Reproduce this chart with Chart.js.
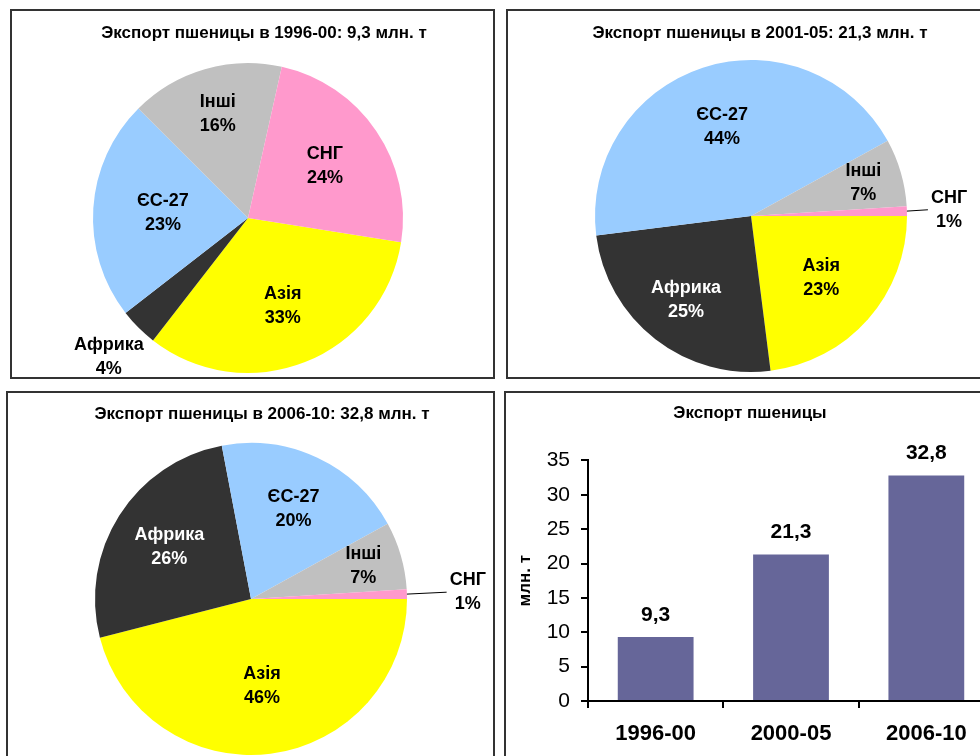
<!DOCTYPE html>
<html>
<head>
<meta charset="utf-8">
<script src="https://cdn.jsdelivr.net/npm/chart.js@4.4.1/dist/chart.umd.min.js"></script>
<style>
  html, body { margin: 0; padding: 0; background: #fff; }
  body { position: relative; width: 980px; height: 756px; overflow: hidden; }
  .panel { position: absolute; border: 2px solid #333; background: #fff; overflow: hidden; }
  .panel canvas { display: block; }
</style>
</head>
<body>
<div class="panel" style="left:10px; top:9px; width:481px; height:366px;"><canvas id="pie1" width="481" height="366"></canvas></div>
<div class="panel" style="left:506px; top:9px; width:480px; height:366px;"><canvas id="pie2" width="480" height="366"></canvas></div>
<div class="panel" style="left:6px; top:391px; width:485px; height:370px;"><canvas id="pie3" width="485" height="370"></canvas></div>
<div class="panel" style="left:504px; top:391px; width:500px; height:370px;"><canvas id="bars" width="500" height="370"></canvas></div>

<script>
// Данные
const regions = ["Азія", "Африка", "ЄС-27", "Інші", "СНГ"]
const share1996 = [33, 4, 23, 16, 24]
const share2001 = [23, 25, 44, 7, 1]
const share2006 = [46, 26, 20, 7, 1]
const pieTitles = [
  "Экспорт пшеницы в 1996-00: 9,3 млн. т",
  "Экспорт пшеницы в 2001-05: 21,3 млн. т",
  "Экспорт пшеницы в 2006-10: 32,8 млн. т",
]
const periods = ["1996-00", "2000-05", "2006-10"]
const exportTotals = [9.3, 21.3, 32.8]

const FONT = '"Liberation Sans", Arial, Helvetica, sans-serif'
Chart.defaults.font.family = FONT
Chart.defaults.color = "#000"

// Цвета секторов
const sliceColors = ["#FFFF00", "#333333", "#99CCFF", "#C0C0C0", "#FF99CC"]

// Заголовок панели
const panelTitle = {
  id: "panelTitle",
  afterDraw(chart, args, opts) {
    const ctx = chart.ctx
    ctx.save()
    ctx.font = "bold 17px " + FONT
    ctx.fillStyle = "#000"
    ctx.textAlign = "center"
    ctx.textBaseline = "middle"
    ctx.fillText(opts.text, opts.x, opts.y)
    ctx.restore()
  },
}

// Подписи секторов: название + процент
const sliceLabels = {
  id: "sliceLabels",
  afterDatasetsDraw(chart, args, opts) {
    const ctx = chart.ctx
    const meta = chart.getDatasetMeta(0)
    const ds = chart.data.datasets[0]
    ctx.save()
    ctx.font = "bold 18px " + FONT
    ctx.textAlign = "center"
    ctx.textBaseline = "middle"
    meta.data.forEach((arc, i) => {
      const p = arc.getProps(["x", "y", "startAngle", "endAngle", "outerRadius"], true)
      const mid = (p.startAngle + p.endAngle) / 2
      const k = opts.radius[i]
      const lx = p.x + Math.cos(mid) * p.outerRadius * k
      const ly = p.y + Math.sin(mid) * p.outerRadius * k
      const lines = [chart.data.labels[i], ds.data[i] + "%"]
      if (opts.leader && opts.leader[i]) {
        const w = Math.max(...lines.map((t) => ctx.measureText(t).width))
        ctx.strokeStyle = "#000"
        ctx.lineWidth = 1
        ctx.beginPath()
        ctx.moveTo(p.x + Math.cos(mid) * p.outerRadius, p.y + Math.sin(mid) * p.outerRadius)
        ctx.lineTo(lx - w / 2 - 3, ly)
        ctx.stroke()
      }
      ctx.fillStyle = k < 1 && ds.backgroundColor[i] === "#333333" ? "#fff" : "#000"
      lines.forEach((t, j) => ctx.fillText(t, lx, ly + (j - 0.5) * opts.lineGap))
    })
    ctx.restore()
  },
}

function makePie(id, values, title, rotation, padding, titlePos, radius, leader) {
  new Chart(document.getElementById(id), {
    type: "pie",
    data: {
      labels: regions,
      datasets: [{ data: values, backgroundColor: sliceColors, borderWidth: 0 }],
    },
    options: {
      responsive: false,
      animation: false,
      rotation: rotation,
      layout: { padding: padding },
      plugins: {
        legend: { display: false },
        tooltip: { enabled: false },
        panelTitle: { text: title, x: titlePos[0], y: titlePos[1] },
        sliceLabels: { radius: radius, leader: leader, lineGap: 24 },
      },
    },
    plugins: [panelTitle, sliceLabels],
  })
}

makePie("pie1", share1996, pieTitles[0], 99,
  { left: 81, right: 90, top: 52, bottom: 4 }, [252, 22],
  [0.61, 1.27, 0.55, 0.7, 0.6], null)

makePie("pie2", share2001, pieTitles[1], 90,
  { left: 87, right: 81, top: 49, bottom: 5 }, [252, 22],
  [0.6, 0.68, 0.6, 0.75, 1.27], [false, false, false, false, true])

makePie("pie3", share2006, pieTitles[2], 90,
  { left: 87, right: 86, top: 50, bottom: 8 }, [254, 21],
  [0.56, 0.62, 0.64, 0.75, 1.39], [false, false, false, false, true])

// Подписи значений над столбцами
const barValues = {
  id: "barValues",
  afterDatasetsDraw(chart) {
    const ctx = chart.ctx
    const meta = chart.getDatasetMeta(0)
    ctx.save()
    ctx.font = "bold 21px " + FONT
    ctx.fillStyle = "#000"
    ctx.textAlign = "center"
    ctx.textBaseline = "middle"
    meta.data.forEach((bar, i) => {
      const v = chart.data.datasets[0].data[i]
      ctx.fillText(v.toFixed(1).replace(".", ","), bar.x, bar.y - 22)
    })
    ctx.restore()
  },
}

new Chart(document.getElementById("bars"), {
  type: "bar",
  data: {
    labels: periods,
    datasets: [{
      data: exportTotals,
      backgroundColor: "#666699",
      borderWidth: 0,
      categoryPercentage: 0.56,
      barPercentage: 1,
    }],
  },
  options: {
    responsive: false,
    animation: false,
    layout: { padding: { left: 0, right: 12, top: 0, bottom: 0 } },
    plugins: {
      legend: { display: false },
      tooltip: { enabled: false },
      title: {
        display: true,
        text: "Экспорт пшеницы",
        color: "#000",
        font: { size: 17, weight: "bold" },
        padding: { top: 10, bottom: 37 },
      },
    },
    scales: {
      x: {
        afterFit: (scale) => { scale.height = 62 },
        grid: { drawOnChartArea: false, drawTicks: true, tickLength: 7, color: "#000", lineWidth: 2 },
        border: { display: true, color: "#000", width: 2 },
        ticks: { color: "#000", font: { size: 22, weight: "bold" }, padding: 13 },
      },
      y: {
        min: 0,
        max: 35,
        afterFit: (scale) => { scale.width = 82 },
        grid: { drawOnChartArea: false, drawTicks: true, tickLength: 7, color: "#000", lineWidth: 2 },
        border: { display: true, color: "#000", width: 2 },
        ticks: { stepSize: 5, color: "#000", font: { size: 21 }, padding: 11 },
        title: {
          display: true,
          text: "млн. т",
          color: "#000",
          font: { size: 17, weight: "bold" },
          padding: { top: 9, bottom: 0 },
        },
      },
    },
  },
  plugins: [barValues],
})
</script>
</body>
</html>
